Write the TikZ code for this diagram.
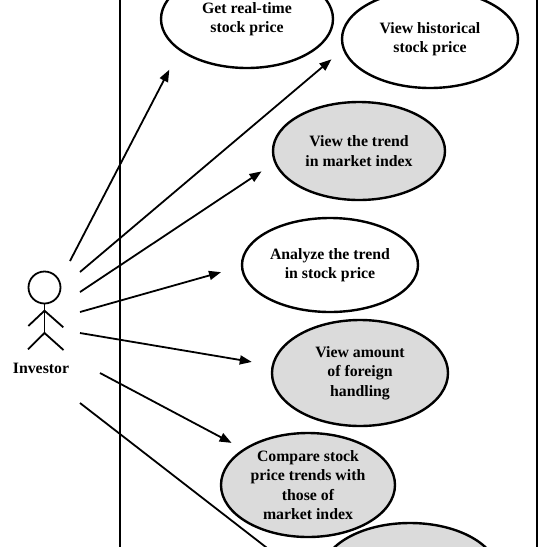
\documentclass[tikz,border=0pt]{standalone}
\usepackage{fontspec}
\setmainfont{Liberation Serif}
\usetikzlibrary{arrows.meta,shapes.geometric}

\tikzset{
    usecase/.style={draw, ellipse, line width=2.4pt, inner sep=0pt, align=center,
        font=\bfseries\fontsize{15.8}{19.3}\selectfont},
    usegray/.style={usecase, fill=black!14},
    assoc/.style={line width=1.8pt, -{Triangle[length=12pt,width=9pt]}},
    actorline/.style={line width=1.8pt},
}

\begin{document}
\begin{tikzpicture}[x=1pt,y=1pt,yscale=-1,xscale=1]
        \useasboundingbox (0,0) rectangle (547,547);
        \clip (0,0) rectangle (547,547);

        %System boundary
        \draw [line width=2.4pt] (120,-20) rectangle (537,570);

        %Use cases
        \node [usecase, minimum width=172pt, minimum height=98pt] (get) at (247,19) {Get real-time\\stock price};
        \node [usecase, minimum width=176pt, minimum height=98pt] (hist) at (430,39) {View historical\\stock price};
        \node [usegray, minimum width=172pt, minimum height=98pt] (trend) at (359,151) {View the trend\\in market index};
        \node [usecase, minimum width=176pt, minimum height=94pt] (analyze) at (330,265) {Analyze the trend\\in stock price};
        \node [usegray, minimum width=176pt, minimum height=106pt] (foreign) at (360,373) {View amount\\of foreign\\handling};
        \node [usegray, minimum width=174pt, minimum height=104pt] (compare) at (308,485) {Compare stock\\price trends with\\those of\\market index};
        \node [usegray, minimum width=176pt, minimum height=100pt] (more) at (410,573) {};

        %Actor
        \draw [actorline] (44.5,287.5) circle (16);
        \draw [actorline] (44.5,303.5) -- (44.5,333);
        \draw [actorline] (28.3,326) -- (44.5,310.7) -- (63.3,327.3);
        \draw [actorline] (28,349.3) -- (44.5,333) -- (63.5,350);
        % Text Node
        \node [font=\bfseries\fontsize{15.8}{19.3}\selectfont] (investor) at (41,368) {Investor};

        %Associations
        \coordinate (s1) at (70,261);
        \coordinate (s2) at (80,272);
        \coordinate (s3) at (80,292);
        \coordinate (s4) at (80,312);
        \coordinate (s5) at (80,333);
        \coordinate (s6) at (100,373);
        \coordinate (s7) at (80,403);
        \draw [assoc, shorten >=21.5pt] (s1) -- (get.205.5);
        \draw [assoc, shorten >=15pt] (s2) -- (hist.187);
        \draw [assoc, shorten >=15.3pt] (s3) -- (trend.188.6);
        \draw [assoc, shorten >=20.6pt] (s4) -- (analyze.181);
        \draw [assoc, shorten >=20.2pt] (s5) -- (foreign.175.7);
        \draw [assoc, shorten >=13pt] (s6) -- (compare.151.6);
        \draw [assoc, shorten >=13pt] (s7) -- (more.200);
\end{tikzpicture}
\end{document}
